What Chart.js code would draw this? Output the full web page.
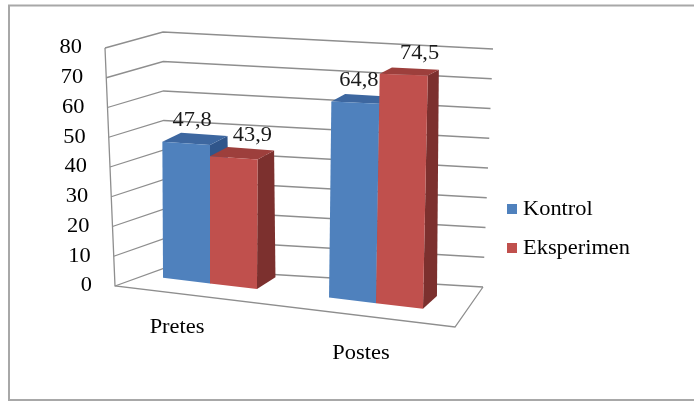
<!DOCTYPE html>
<html>
<head>
<meta charset="utf-8">
<script src="https://cdn.jsdelivr.net/npm/chart.js@4.4.0/dist/chart.umd.min.js"></script>
<style>
  html, body { margin: 0; padding: 0; background: #fff; }
</style>
</head>
<body>
<canvas id="chart" width="694" height="401"></canvas>
<script>
// ---- data ----
const categories = ["Pretes", "Postes"];
const seriesNames = ["Kontrol", "Eksperimen"];
const kontrol = [47.8, 64.8];
const eksperimen = [43.9, 74.5];
const yTicks = [0, 10, 20, 30, 40, 50, 60, 70, 80];

// ---- look ----
const FONT = "20px \"Liberation Serif\", \"Times New Roman\", serif";
const TEXT_STRETCH = 1.12; // the original text is a bit wider than it is tall
const faceColors = [
  { front: "#4f81bd", top: "#3d67a0", side: "#30568b" },
  { front: "#c0504d", top: "#9d3f3c", side: "#7c302e" }
];
const gridColor = "#8e8e8e";

// corners of the walls box (front/back, left/right, bottom/top)
const box = {
  flb: [115, 286], flt: [105, 48],
  blb: [165, 268], blt: [163, 32],
  brb: [483, 287], brt: [493, 49],
  frb: [455, 327]
};

// plane the bar fronts stand in: u across the category axis, v up the value axis
const barPlane = { bl: [127, 273.5], br: [459, 313], tl: [125, 49], tr: [465, 59.5] };
// how far a bar reaches back into the chart, depending on where it stands
const barDepth = { bl: [22, -11], br: [13, -13], tl: [18, -8], tr: [10, -5] };

function lerp(a, b, t) {
  return [a[0] + (b[0] - a[0]) * t, a[1] + (b[1] - a[1]) * t];
}

function bilerp(q, u, v) {
  const bottom = lerp(q.bl, q.br, u);
  const top = lerp(q.tl, q.tr, u);
  return lerp(bottom, top, v);
}

function poly(ctx, pts, fill) {
  ctx.beginPath();
  ctx.moveTo(pts[0][0], pts[0][1]);
  for (let i = 1; i < pts.length; i++) ctx.lineTo(pts[i][0], pts[i][1]);
  ctx.closePath();
  ctx.fillStyle = fill;
  ctx.fill();
}

function seg(ctx, pts) {
  ctx.beginPath();
  ctx.moveTo(pts[0][0], pts[0][1]);
  for (let i = 1; i < pts.length; i++) ctx.lineTo(pts[i][0], pts[i][1]);
  ctx.stroke();
}

// text drawn slightly stretched sideways, anchored at x
function text(ctx, str, x, y, align) {
  ctx.save();
  ctx.translate(x, y);
  ctx.scale(TEXT_STRETCH, 1);
  ctx.textAlign = align;
  ctx.textBaseline = "middle";
  ctx.fillText(str, 0, 0);
  ctx.restore();
}

function fmt(v) {
  return String(v).replace(".", ",");
}

const threeDPlugin = {
  id: "threeD",
  beforeDatasetsDraw(chart) {
    const { ctx, chartArea, scales } = chart;
    ctx.save();
    ctx.strokeStyle = gridColor;
    ctx.lineWidth = 1.3;
    yTicks.forEach(t => {
      const v = (chartArea.bottom - scales.y.getPixelForValue(t)) / chartArea.height;
      const fl = lerp(box.flb, box.flt, v);
      const bl = lerp(box.blb, box.blt, v);
      const br = lerp(box.brb, box.brt, v);
      seg(ctx, [fl, bl, br]);
    });
    seg(ctx, [box.flt, box.flb, box.frb, box.brb]);
    ctx.restore();
  },
  afterDatasetsDraw(chart) {
    const { ctx, chartArea } = chart;
    const metas = chart.data.datasets.map((_, i) => chart.getDatasetMeta(i));
    ctx.save();
    categories.forEach((_, ci) => {
      metas.forEach((meta, di) => {
        const bar = meta.data[ci];
        const p = bar.getProps(["x", "y", "base", "width"], true);
        const u0 = (p.x - p.width / 2 - chartArea.left) / chartArea.width;
        const u1 = (p.x + p.width / 2 - chartArea.left) / chartArea.width;
        const v = (p.base - p.y) / chartArea.height;
        const c = faceColors[di];

        const f0 = bilerp(barPlane, u0, 0), f1 = bilerp(barPlane, u1, 0);
        const t0 = bilerp(barPlane, u0, v), t1 = bilerp(barPlane, u1, v);
        const d0 = bilerp(barDepth, u0, v), d1 = bilerp(barDepth, u1, v);
        const db = bilerp(barDepth, u1, 0);
        const back = (pt, d) => [pt[0] + d[0], pt[1] + d[1]];

        poly(ctx, [f1, t1, back(t1, d1), back(f1, db)], c.side);
        poly(ctx, [t0, t1, back(t1, d1), back(t0, d0)], c.top);
        poly(ctx, [f0, f1, t1, t0], c.front);

        // value label above the middle of the top face
        const uc = (u0 + u1) / 2;
        const tc = bilerp(barPlane, uc, v);
        const dc = bilerp(barDepth, uc, v);
        ctx.font = FONT;
        ctx.fillStyle = "#1a1a1a";
        const value = chart.data.datasets[di].data[ci];
        text(ctx, fmt(value), tc[0] + dc[0] / 2 + (di === 0 ? -3 : 10), tc[1] + dc[1] / 2 - 18, "center");
      });
    });
    ctx.restore();
  },
  afterDraw(chart) {
    const { ctx, chartArea, scales } = chart;
    ctx.save();
    ctx.font = FONT;
    ctx.fillStyle = "#000";

    // value axis labels, following the slanted front edge
    yTicks.forEach(t => {
      const v = (chartArea.bottom - scales.y.getPixelForValue(t)) / chartArea.height;
      const fl = lerp(box.flb, box.flt, v);
      text(ctx, String(t), fl[0] - 23, fl[1], "right");
    });

    // category labels in front of the floor
    categories.forEach((name, i) => {
      const u = (scales.x.getPixelForValue(i) - chartArea.left) / chartArea.width;
      const b = bilerp(barPlane, u, 0);
      text(ctx, name, b[0] - 42 + 36 * u, b[1] + 40.5 + 14 * u, "center");
    });

    // legend
    seriesNames.forEach((name, i) => {
      const cy = 210 + i * 39;
      ctx.fillStyle = faceColors[i].front;
      ctx.fillRect(507, cy - 6, 10, 10);
      ctx.fillStyle = "#000";
      text(ctx, name, 523, cy, "left");
    });

    // outer frame
    ctx.strokeStyle = "#a8a8a8";
    ctx.lineWidth = 2;
    seg(ctx, [[700, 5.5], [9, 5.5], [9, 400], [700, 400]]);
    ctx.restore();
  }
};

new Chart(document.getElementById("chart").getContext("2d"), {
  type: "bar",
  data: {
    labels: categories,
    datasets: [
      { label: seriesNames[0], data: kontrol, backgroundColor: "rgba(0,0,0,0)", borderWidth: 0 },
      { label: seriesNames[1], data: eksperimen, backgroundColor: "rgba(0,0,0,0)", borderWidth: 0 }
    ]
  },
  options: {
    responsive: false,
    animation: false,
    devicePixelRatio: 1,
    events: [],
    layout: { padding: { left: 127, right: 235, top: 48, bottom: 115 } },
    datasets: { bar: { categoryPercentage: 0.566, barPercentage: 1 } },
    plugins: { legend: { display: false }, tooltip: { enabled: false } },
    scales: {
      x: { display: false },
      y: {
        display: false,
        min: yTicks[0],
        max: yTicks[yTicks.length - 1],
        ticks: { stepSize: yTicks[1] - yTicks[0] }
      }
    }
  },
  plugins: [threeDPlugin]
});
</script>
</body>
</html>
